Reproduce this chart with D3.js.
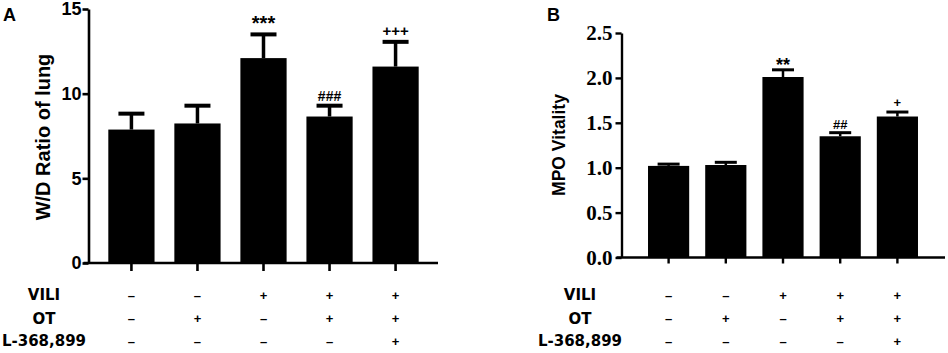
<!DOCTYPE html>
<html>
<head>
<meta charset="utf-8">
<script src="https://cdn.jsdelivr.net/npm/d3@7"></script>
<style>
  body { margin: 0; background: #fff; }
  svg { display: block; }
</style>
</head>
<body>
<div id="chart"></div>
<script>
// groups (5 bars per panel)
var groups = ["g1", "g2", "g3", "g4", "g5"];

// panel A: W/D ratio
var wdMean = [7.88, 8.24, 12.1, 8.65, 11.6];
var wdErr = [0.94, 1.05, 1.4, 0.64, 1.46];
var wdTicks = [0, 5, 10, 15];
var wdMarks = ["", "", "***", "###", "+++"];

// panel B: MPO vitality
var mpoMean = [1.02, 1.03, 2.01, 1.35, 1.57];
var mpoErr = [0.02, 0.03, 0.08, 0.04, 0.05];
var mpoTicks = [0, 0.5, 1, 1.5, 2, 2.5];
var mpoMarks = ["", "", "**", "##", "+"];

// treatment table under the bars
var rowNames = ["VILI", "OT", "L-368,899"];
var vili = ["-", "-", "+", "+", "+"];
var ot = ["-", "+", "-", "+", "+"];
var l368 = ["-", "-", "-", "-", "+"];

var width = 948, height = 353;

var svg = d3.select("#chart").append("svg")
    .attr("width", width)
    .attr("height", height);

function drawPanel(p) {
    var g = svg.append("g");

    var x = d3.scaleBand()
        .domain(groups)
        .range([p.bandLeft, p.bandRight])
        .padding(p.pad);

    var y = d3.scaleLinear()
        .domain([0, p.max])
        .range([p.bottom, p.top]);

    // bars
    g.append("g")
        .selectAll("rect")
        .data(p.mean)
        .enter()
        .append("rect")
        .attr("x", (d, i) => x(groups[i]))
        .attr("y", d => y(d))
        .attr("width", x.bandwidth())
        .attr("height", d => y(0) - y(d))
        .attr("fill", "#000");

    // upper error bars
    var eb = g.append("g")
        .attr("stroke", "#000");
    eb.selectAll("line.v")
        .data(p.mean)
        .enter()
        .append("line")
        .attr("class", "v")
        .attr("x1", (d, i) => x(groups[i]) + x.bandwidth() / 2)
        .attr("x2", (d, i) => x(groups[i]) + x.bandwidth() / 2)
        .attr("y1", d => y(d))
        .attr("y2", (d, i) => y(d + p.err[i]))
        .attr("stroke-width", p.errW);
    eb.selectAll("line.c")
        .data(p.mean)
        .enter()
        .append("line")
        .attr("class", "c")
        .attr("x1", (d, i) => x(groups[i]) + x.bandwidth() / 2 - p.cap / 2)
        .attr("x2", (d, i) => x(groups[i]) + x.bandwidth() / 2 + p.cap / 2)
        .attr("y1", (d, i) => y(d + p.err[i]))
        .attr("y2", (d, i) => y(d + p.err[i]))
        .attr("stroke-width", p.capW);

    // significance marks
    g.append("g")
        .selectAll("text")
        .data(p.marks)
        .enter()
        .append("text")
        .attr("x", (d, i) => x(groups[i]) + x.bandwidth() / 2)
        .attr("y", (d, i) => y(p.mean[i] + p.err[i]) - p.markGap[i])
        .attr("text-anchor", "middle")
        .style("font-family", "'Liberation Sans', Arial, sans-serif")
        .style("font-weight", "bold")
        .style("font-size", (d, i) => p.markSize[i] + "px")
        .text(d => d);

    // y axis
    var gy = g.append("g")
        .attr("transform", `translate(${p.axisX},0)`)
        .call(d3.axisLeft(y)
            .tickValues(p.ticks)
            .tickFormat(p.fmt)
            .tickSize(6)
            .tickPadding(p.tickPad)
            .tickSizeOuter(0));
    gy.select(".domain").attr("stroke-width", p.axisW);
    gy.selectAll(".tick line").attr("stroke-width", p.axisW);
    gy.selectAll(".tick text")
        .style("font-family", p.tickFont)
        .style("font-weight", "bold")
        .style("font-size", p.tickSize + "px")
        .attr("fill", "#000");

    // x axis line and ticks
    var gx = g.append("g");
    gx.append("line")
        .attr("x1", p.axisX - 5)
        .attr("x2", p.axisEnd)
        .attr("y1", y(0))
        .attr("y2", y(0))
        .attr("stroke", "#000")
        .attr("stroke-width", p.axisW);
    gx.selectAll("line.t")
        .data(groups)
        .enter()
        .append("line")
        .attr("class", "t")
        .attr("x1", d => x(d) + x.bandwidth() / 2)
        .attr("x2", d => x(d) + x.bandwidth() / 2)
        .attr("y1", y(0))
        .attr("y2", y(0) + p.xTick)
        .attr("stroke", "#000")
        .attr("stroke-width", p.axisW);

    // y label
    g.append("text")
        .attr("transform", `translate(${p.labelX},${p.labelY}) rotate(-90)`)
        .attr("text-anchor", "middle")
        .style("font-family", "'Liberation Sans', Arial, sans-serif")
        .style("font-weight", "bold")
        .style("font-size", p.labelSize + "px")
        .text(p.label);

    // panel letter
    g.append("text")
        .attr("x", p.letterX)
        .attr("y", 21)
        .style("font-family", "'Liberation Sans', Arial, sans-serif")
        .style("font-weight", "bold")
        .style("font-size", "18px")
        .text(p.letter);

    // treatment rows
    var rowY = [295, 318.5, 341];
    var signs = [vili, ot, l368];
    rowNames.forEach(function (name, r) {
        g.append("text")
            .attr("x", p.rowX)
            .attr("y", rowY[r])
            .attr("dy", "0.35em")
            .attr("text-anchor", "middle")
            .style("font-family", "'DejaVu Sans', sans-serif")
            .style("font-weight", "bold")
            .style("font-size", "15px")
            .text(name);
        g.append("g")
            .selectAll("text")
            .data(signs[r])
            .enter()
            .append("text")
            .attr("x", (d, i) => x(groups[i]) + x.bandwidth() / 2)
            .attr("y", rowY[r])
            .attr("dy", "0.35em")
            .attr("text-anchor", "middle")
            .style("font-family", "'Liberation Sans', Arial, sans-serif")
            .style("font-weight", "bold")
            .style("font-size", "13px")
            .text(d => d === "-" ? "\u2013" : d);
    });
}

drawPanel({
    mean: wdMean, err: wdErr, ticks: wdTicks, marks: wdMarks, max: 15,
    fmt: d3.format("d"),
    top: 9, bottom: 263,
    bandLeft: 88.5, bandRight: 438.5, pad: 0.3,
    axisX: 88.5, axisEnd: 438, axisW: 2.6, xTick: 8,
    errW: 3.5, capW: 4, cap: 26,
    markSize: [15, 15, 20, 14, 15], markGap: [0, 0, 4, 5, 6],
    tickFont: "'Liberation Sans', Arial, sans-serif", tickSize: 18, tickPad: 1,
    label: "W/D Ratio of lung", labelX: 50, labelY: 137, labelSize: 20,
    letter: "A", letterX: 3,
    rowX: 44
});

drawPanel({
    mean: mpoMean, err: mpoErr, ticks: mpoTicks, marks: mpoMarks, max: 2.5,
    fmt: d3.format(".1f"),
    top: 33, bottom: 257.5,
    bandLeft: 632, bandRight: 934, pad: 0.28,
    axisX: 621.5, axisEnd: 945, axisW: 2.4, xTick: 6,
    errW: 2.5, capW: 3, cap: 22,
    markSize: [12, 12, 18, 13, 13], markGap: [0, 0, -1, 4, 5],
    tickFont: "'Liberation Serif', 'Times New Roman', serif", tickSize: 21, tickPad: 3,
    label: "MPO Vitality", labelX: 565, labelY: 145, labelSize: 17.5,
    letter: "B", letterX: 547,
    rowX: 580
});
</script>
</body>
</html>
